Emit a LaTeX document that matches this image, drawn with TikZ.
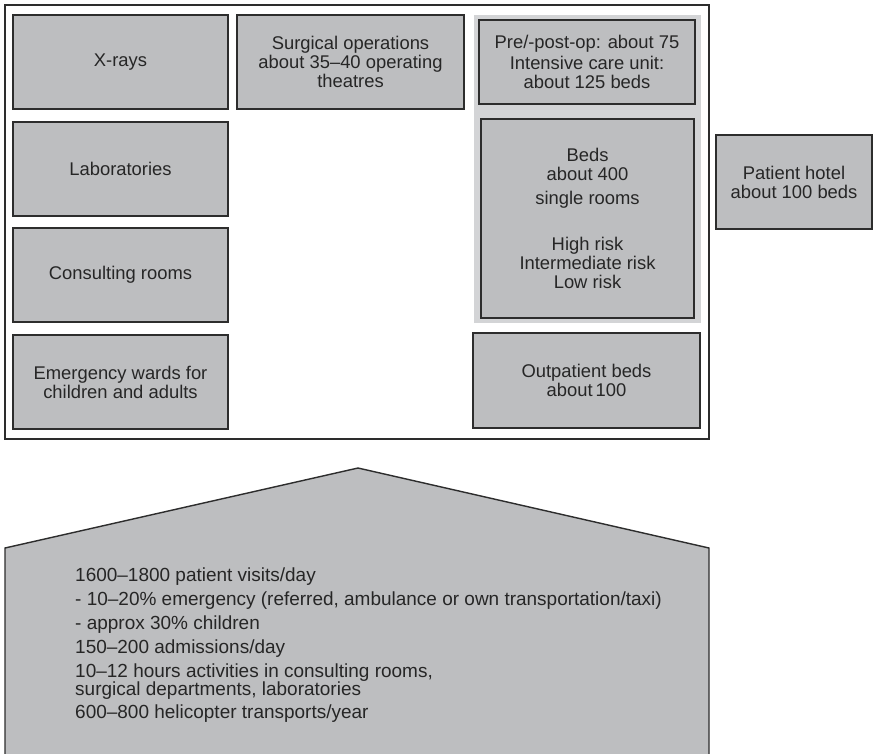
\documentclass[tikz,border=0pt]{standalone}
\usepackage{fontspec}
\setmainfont{Liberation Sans}
\usetikzlibrary{positioning}

\definecolor{boxgray}{RGB}{189,190,192}
\definecolor{zonegray}{RGB}{211,212,214}
\definecolor{edgegray}{RGB}{45,45,45}
\definecolor{inkgray}{RGB}{38,38,38}

\begin{document}
\begin{tikzpicture}[x=0.03cm, y=-0.03cm,
  room/.style 2 args={draw=edgegray, fill=boxgray, line width=1.3pt, text=inkgray,
    align=center, inner sep=0pt, minimum width=#1*0.03cm, minimum height=#2*0.03cm,
    font=\fontsize{15.7}{16.3}\selectfont},
  zone/.style 2 args={fill=zonegray, inner sep=0pt, minimum width=#1*0.03cm, minimum height=#2*0.03cm},
  site/.style 2 args={draw=edgegray, fill=white, line width=1.2pt, inner sep=0pt,
    minimum width=#1*0.03cm, minimum height=#2*0.03cm}]

\useasboundingbox (0,0) rectangle (873,753);

% hospital frame and bed zone
\node [site={704}{434}] (hospital) at (357,222) {};
\node [zone={227}{308}] (bedzone) at (587.5,169) {};

% left column
\foreach \n/\y/\t in {xray/62/X-rays, lab/169/Laboratories, consult/275/Consulting rooms,
    emerg/382/{Emergency wards for\\children and adults}}
  \node [room={215}{94}] (\n) at (120.5,\y) {\t};

\node [room={227}{94}] (surgery) at (350.5,62)
  {Surgical operations\\about 35--40 operating\\theatres};

% right column
\node [room={216}{84}] (icu) at (587,62)
  {Pre/-post-op: about 75\\[2pt]Intensive care unit:\\about 125 beds};
\node [room={213}{199}] (beds) at (587.5,218.5)
  {Beds\\about 400\\[4pt]single rooms\\[23pt]High risk\\Intermediate risk\\Low risk};
\node [room={227}{95}] (outpatient) at (586.5,380.5) {Outpatient beds\\about\,100};

\node [room={156}{94}] (hotel) at (794,182) {Patient hotel\\about 100 beds};

% activity house
\coordinate (roof) at (358,468);
\draw [draw=edgegray, fill=boxgray, line width=1.2pt]
  (5,760) -- (5,548) -- (roof) -- (709,548) -- (709,760) -- cycle;

\node [anchor=north west, align=left, inner sep=0pt, text=inkgray,
  font=\fontsize{16.2}{15.4}\selectfont] (activity) at (75,568)
  {1600--1800 patient visits/day\\[4.9pt]
   - 10--20\% emergency (referred, ambulance or own transportation/taxi)\\[4.9pt]
   - approx 30\% children\\[4.9pt]
   150--200 admissions/day\\[4.9pt]
   10--12 hours activities in consulting rooms,\\
   surgical departments, laboratories\\[4.9pt]
   600--800 helicopter transports/year};

\end{tikzpicture}
\end{document}
